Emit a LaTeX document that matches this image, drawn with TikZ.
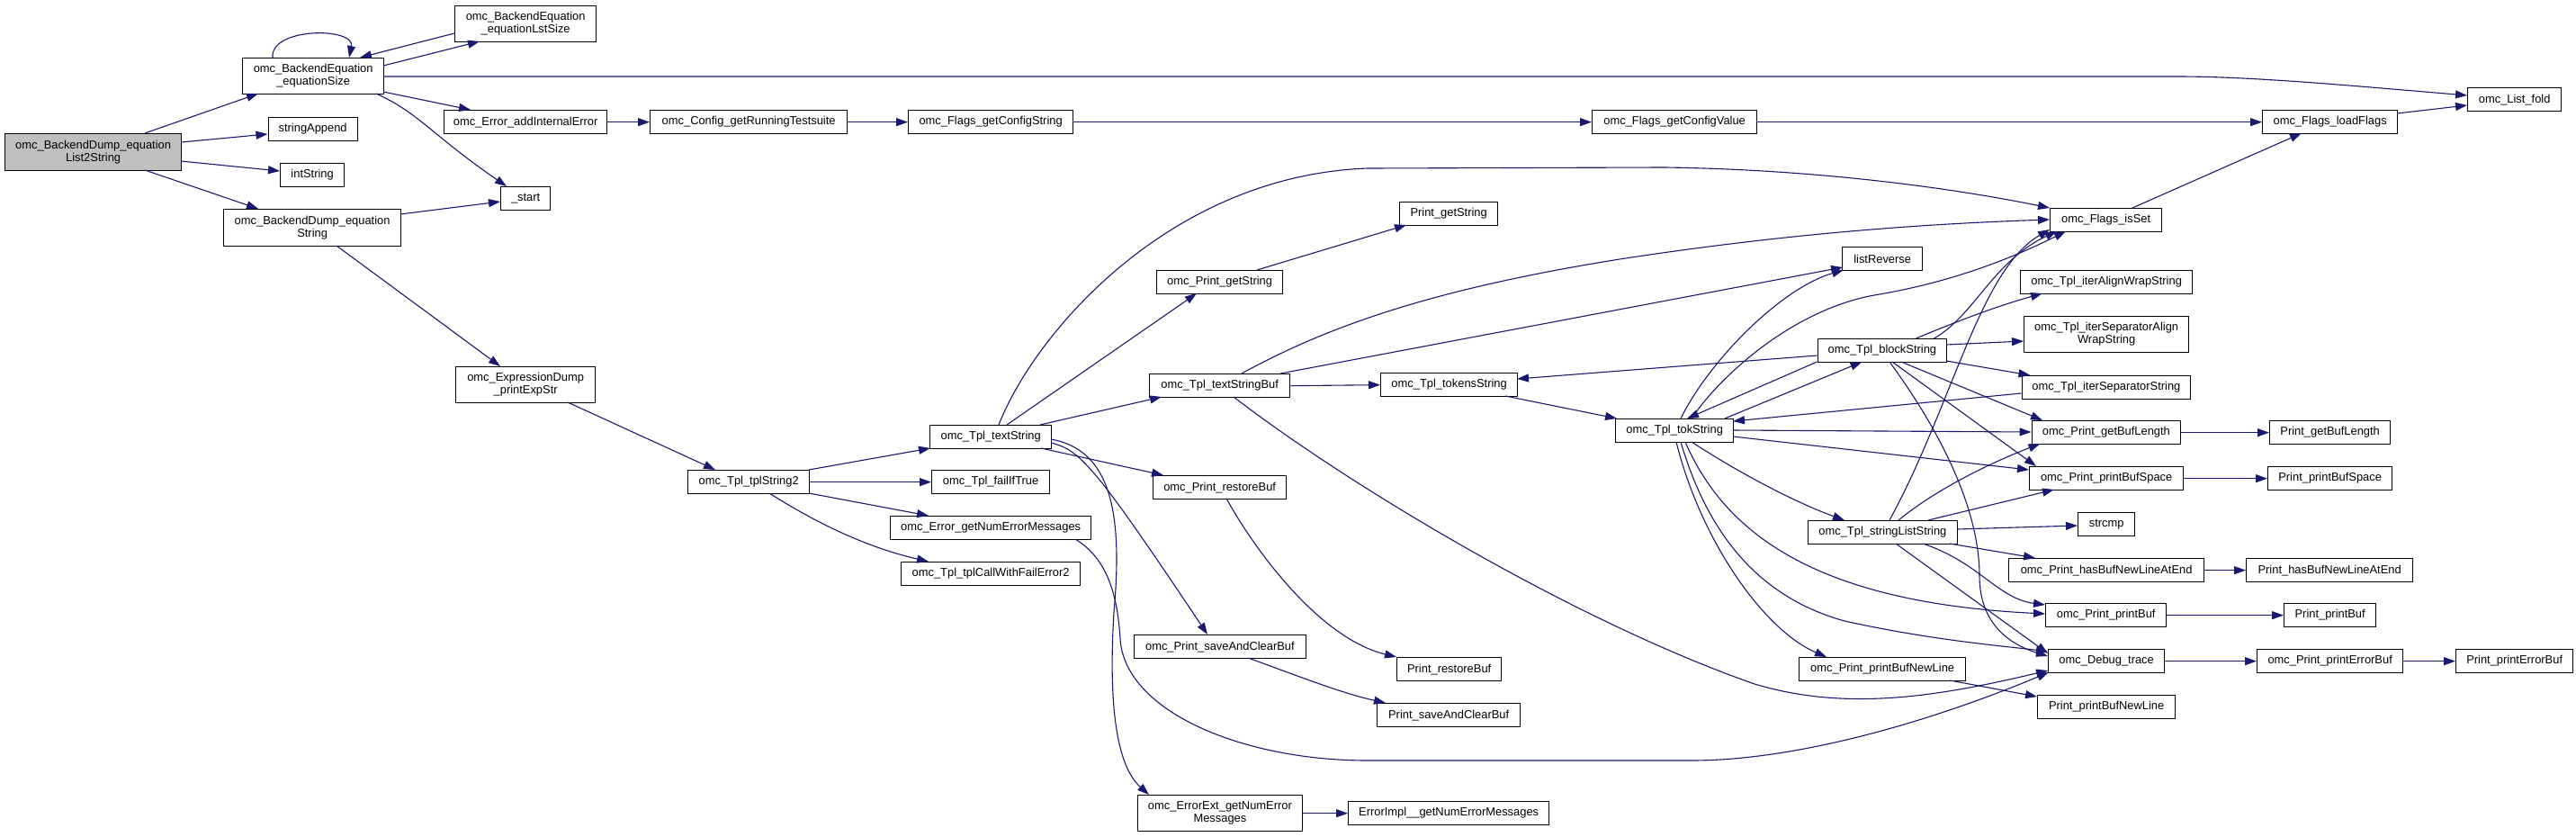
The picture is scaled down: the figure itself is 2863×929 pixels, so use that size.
\documentclass[tikz,border=0pt]{standalone}
\usepackage{fontspec}
\setmainfont{Liberation Sans}
\usetikzlibrary{arrows.meta,calc}
\definecolor{edgeblue}{HTML}{191970}
\definecolor{rootgray}{HTML}{BFBFBF}
\begin{document}
\begin{tikzpicture}[x=1pt,y=-1pt,
  box/.style={draw=black,line width=1.3pt,fill=white,inner sep=0pt,align=center,anchor=north west,minimum height=26pt,font=\fontsize{12.9}{14}\selectfont},
  dbl/.style={minimum height=40pt},
  call/.style={draw=edgeblue,line width=1.1pt,-{Triangle[length=13pt,width=9pt]}}]
\useasboundingbox[fill=white] (0,0) rectangle (2863,929);

% ---------- nodes ----------
\node[box,fill=rootgray,minimum width=196pt,minimum height=41pt] (L2S) at (5,148) {omc\_BackendDump\_equation\\List2String};
\node[box,dbl,minimum width=157pt] (eqSize) at (269,64) {omc\_BackendEquation\\\_equationSize};
\node[box,dbl,minimum width=157pt] (eqLst) at (505,6) {omc\_BackendEquation\\\_equationLstSize};
\node[box,minimum width=99pt] (strApp) at (297.5,130) {stringAppend};
\node[box,minimum width=71pt] (intStr) at (311,181) {intString};
\node[box,minimum width=197pt,minimum height=41pt] (eqStr) at (248,232) {omc\_BackendDump\_equation\\String};
\node[box,minimum width=181pt] (addErr) at (493,122) {omc\_Error\_addInternalError};
\node[box,minimum width=55pt] (start) at (556,207) {\_start};
\node[box,dbl,minimum width=155pt] (expStr) at (506,407) {omc\_ExpressionDump\\\_printExpStr};
\node[box,minimum width=219pt] (cfgTest) at (722,122) {omc\_Config\_getRunningTestsuite};
\node[box,minimum width=183pt] (cfgStr) at (1009,122) {omc\_Flags\_getConfigString};
\node[box,minimum width=183pt] (cfgVal) at (1769,122) {omc\_Flags\_getConfigValue};
\node[box,minimum width=150pt] (loadFl) at (2514,122) {omc\_Flags\_loadFlags};
\node[box,minimum width=104pt] (fold) at (2742,97) {omc\_List\_fold};
\node[box,minimum width=124pt] (isSet) at (2278,231) {omc\_Flags\_isSet};
\node[box,minimum width=140pt] (oPgetStr) at (1285,300) {omc\_Print\_getString};
\node[box,minimum width=109pt] (PgetStr) at (1555,224) {Print\_getString};
\node[box,minimum width=156pt] (tsBuf) at (1277,415) {omc\_Tpl\_textStringBuf};
\node[box,minimum width=89pt] (listRev) at (2047,274) {listReverse};
\node[box,minimum width=143.5pt] (block) at (2019.5,376) {omc\_Tpl\_blockString};
\node[box,minimum width=152pt] (tokens) at (1534,414) {omc\_Tpl\_tokensString};
\node[box,minimum width=131pt] (tok) at (1795,465) {omc\_Tpl\_tokString};
\node[box,minimum width=191pt] (iterAW) at (2245,300) {omc\_Tpl\_iterAlignWrapString};
\node[box,dbl,minimum width=183pt] (iterSAW) at (2249,351) {omc\_Tpl\_iterSeparatorAlign\\WrapString};
\node[box,minimum width=187.5pt] (iterS) at (2246.5,417) {omc\_Tpl\_iterSeparatorString};
\node[box,minimum width=165.5pt] (getBL) at (2257.5,467) {omc\_Print\_getBufLength};
\node[box,minimum width=134pt] (PgetBL) at (2522,467) {Print\_getBufLength};
\node[box,minimum width=171pt] (pBS) at (2255,518) {omc\_Print\_printBufSpace};
\node[box,minimum width=138pt] (PpBS) at (2520,518) {Print\_printBufSpace};
\node[box,minimum width=63pt] (strcmp) at (2309,569) {strcmp};
\node[box,minimum width=217pt] (hasNL) at (2232,620) {omc\_Print\_hasBufNewLineAtEnd};
\node[box,minimum width=185pt] (PhasNL) at (2496,620) {Print\_hasBufNewLineAtEnd};
\node[box,minimum width=134pt] (pBuf) at (2273,670) {omc\_Print\_printBuf};
\node[box,minimum width=102pt] (PpBuf) at (2538,670) {Print\_printBuf};
\node[box,minimum width=129pt] (dbg) at (2276,721) {omc\_Debug\_trace};
\node[box,minimum width=162pt] (pErr) at (2508,721) {omc\_Print\_printErrorBuf};
\node[box,minimum width=130pt] (PpErr) at (2729,721) {Print\_printErrorBuf};
\node[box,minimum width=153pt] (PpBNL) at (2264,772) {Print\_printBufNewLine};
\node[box,minimum width=166.5pt] (sLS) at (2008.5,578) {omc\_Tpl\_stringListString};
\node[box,minimum width=185pt] (pBNL) at (1999,730) {omc\_Print\_printBufNewLine};
\node[box,minimum width=116pt] (PrestBuf) at (1552,730) {Print\_restoreBuf};
\node[box,minimum width=159pt] (PsaveBuf) at (1530,781) {Print\_saveAndClearBuf};
\node[box,minimum width=223pt] (ErrImpl) at (1498,890) {ErrorImpl\_\_getNumErrorMessages};
\node[box,minimum width=135pt] (textStr) at (1033,472) {omc\_Tpl\_textString};
\node[box,minimum width=135pt] (tpl2) at (764,522) {omc\_Tpl\_tplString2};
\node[box,minimum width=131pt] (failT) at (1035,522) {omc\_Tpl\_failIfTrue};
\node[box,minimum width=223pt] (errNum) at (989,573) {omc\_Error\_getNumErrorMessages};
\node[box,minimum width=199pt] (callFail) at (1001,624) {omc\_Tpl\_tplCallWithFailError2};
\node[box,minimum width=148pt] (oPrest) at (1281,528) {omc\_Print\_restoreBuf};
\node[box,minimum width=191.5pt] (oPsave) at (1259.5,705) {omc\_Print\_saveAndClearBuf};
\node[box,dbl,minimum width=182.5pt] (errExt) at (1264,883) {omc\_ErrorExt\_getNumError\\Messages};

% ---------- edges ----------
\draw[call] ($(L2S.north west)+(156,0)$) -- ($(eqSize.north west)+(18,40)$);
\draw[call] ($(L2S.north west)+(196,10)$) -- ($(strApp.north west)+(0,19)$);
\draw[call] ($(L2S.north west)+(196,31)$) -- ($(intStr.north west)+(0,9)$);
\draw[call] ($(L2S.north west)+(156,41)$) -- ($(eqStr.north west)+(39,0)$);
\draw[call] ($(eqSize.north west)+(34,0)$) .. controls (300,30) and (395,30) .. ($(eqSize.north west)+(119,0)$);
\draw[call] ($(eqSize.north west)+(157,9)$) -- ($(eqLst.north west)+(28,40)$);
\draw[call] ($(eqLst.north west)+(0,31)$) -- ($(eqSize.north west)+(131,0)$);
\draw[call] ($(eqSize.north west)+(157,21)$) -- (2420,85) .. controls (2500,85) and (2600,94) .. ($(fold.north west)+(0,9)$);
\draw[call] ($(eqSize.north west)+(157,38)$) -- ($(addErr.north west)+(30,0)$);
\draw[call] ($(eqSize.north west)+(149,40)$) .. controls (465,125) and (480,150) .. ($(start.north west)+(7,0)$);
\draw[call] ($(eqStr.north west)+(197,6)$) -- ($(start.north west)+(0,17)$);
\draw[call] ($(eqStr.north west)+(126,41)$) -- ($(expStr.north west)+(50,0)$);
\draw[call] (addErr.east) -- (cfgTest.west);
\draw[call] (cfgTest.east) -- (cfgStr.west);
\draw[call] (cfgStr.east) -- (cfgVal.west);
\draw[call] (cfgVal.east) -- (loadFl.west);
\draw[call] ($(loadFl.north west)+(150,4)$) -- ($(fold.north west)+(0,20)$);
\draw[call] ($(isSet.north west)+(92,0)$) -- ($(loadFl.north west)+(44,26)$);
\draw[call] ($(expStr.north west)+(125,40)$) -- ($(tpl2.north west)+(31,0)$);
\draw[call] ($(tpl2.north west)+(135,0)$) -- ($(textStr.north west)+(1,26)$);
\draw[call] (tpl2.east) -- (failT.west);
\draw[call] ($(tpl2.north west)+(135,26)$) -- ($(errNum.north west)+(43,0)$);
\draw[call] ($(tpl2.north west)+(91,26)$) .. controls (890,570) and (950,605) .. ($(callFail.north west)+(31,0)$);
\draw[call] ($(textStr.north west)+(135,16)$) .. controls (1235,500) and (1248,570) .. (1238,680) .. controls (1232,780) and (1240,850) .. ($(errExt.north west)+(13,0)$);
\draw[call] ($(errNum.north west)+(206,26)$) .. controls (1230,620) and (1242,660) .. (1245,710) .. controls (1250,790) and (1380,845) .. (1520,845) -- (1880,845) .. controls (2000,845) and (2150,800) .. ($(dbg.north west)+(1,26)$);
\draw[call] (errExt.east) -- (ErrImpl.west);
\draw[call] ($(textStr.north west)+(77,0)$) .. controls (1150,370) and (1300,195) .. (1520,187) -- (1850,186) .. controls (2000,188) and (2150,205) .. (isSet.north west);
\draw[call] ($(textStr.north west)+(86,0)$) -- ($(oPgetStr.north west)+(45,26)$);
\draw[call] ($(oPgetStr.north west)+(112,0)$) -- ($(PgetStr.north west)+(8,26)$);
\draw[call] ($(textStr.north west)+(123,0)$) -- ($(tsBuf.north west)+(14,26)$);
\draw[call] ($(textStr.north west)+(124,26)$) -- ($(oPrest.north west)+(12,0)$);
\draw[call] ($(textStr.north west)+(135,20)$) .. controls (1200,500) and (1215,515) .. ($(oPsave.north west)+(82.5,0)$);
\draw[call] ($(oPrest.north west)+(82,26)$) .. controls (1400,620) and (1470,710) .. (PrestBuf.north west);
\draw[call] ($(oPsave.north west)+(127.5,26)$) .. controls (1440,750) and (1490,770) .. ($(PsaveBuf.north west)+(10,0)$);
\draw[call] ($(tsBuf.north west)+(103,0)$) .. controls (1480,360) and (1600,320) .. (1800,288) .. controls (1950,265) and (2100,250) .. ($(isSet.north west)+(0,13)$);
\draw[call] ($(tsBuf.north west)+(146,0)$) -- ($(listRev.north west)+(1,23)$);
\draw[call] (tsBuf.east) -- (tokens.west);
\draw[call] ($(tsBuf.north west)+(94,26)$) .. controls (1500,540) and (1750,690) .. (1950,760) .. controls (2050,790) and (2150,775) .. ($(dbg.north west)+(0,24)$);
\draw[call] ($(tokens.north west)+(139,26)$) -- ($(tok.north west)+(2,0)$);
\draw[call] ($(block.north west)+(0,19)$) -- ($(tokens.north west)+(152,7)$);
\draw[call] ($(tok.north west)+(122,0)$) -- ($(block.north west)+(50,26)$);
\draw[call] ($(block.north west)+(0,26)$) -- ($(tok.north west)+(80,0)$);
\draw[call] ($(tok.north west)+(73,0)$) .. controls (1900,400) and (1980,320) .. ($(listRev.north west)+(2,26)$);
\draw[call] ($(tok.north west)+(85,0)$) .. controls (1910,420) and (1990,345) .. (2083,328) .. controls (2180,312) and (2250,280) .. ($(isSet.north west)+(18,26)$);
\draw[call] ($(block.north west)+(130,0)$) .. controls (2195,350) and (2215,290) .. ($(isSet.north west)+(8,26)$);
\draw[call] ($(block.north west)+(110,0)$) .. controls (2180,355) and (2220,340) .. ($(iterAW.north west)+(25,26)$);
\draw[call] ($(block.north west)+(143.5,7)$) -- ($(iterSAW.north west)+(0,28)$);
\draw[call] ($(block.north west)+(143.5,25)$) -- ($(iterS.north west)+(10,0)$);
\draw[call] ($(block.north west)+(80.5,26)$) .. controls (2150,470) and (2200,560) .. (2200,640) .. controls (2200,690) and (2230,715) .. ($(dbg.north west)+(0,8)$);
\draw[call] ($(block.north west)+(83.5,26)$) -- ($(pBS.north west)+(8,0)$);
\draw[call] ($(block.north west)+(93.5,26)$) -- ($(getBL.north west)+(12.5,0)$);
\draw[call] ($(iterS.north west)+(0,20)$) -- ($(tok.north west)+(131,3)$);
\draw[call] ($(tok.north west)+(131,13)$) -- ($(getBL.north west)+(0,13)$);
\draw[call] ($(tok.north west)+(131,20)$) -- ($(pBS.north west)+(0,4)$);
\draw[call] ($(tok.north west)+(85,26)$) .. controls (1940,530) and (2000,560) .. ($(sLS.north west)+(41.5,0)$);
\draw[call] ($(tok.north west)+(78,26)$) .. controls (1920,600) and (2030,670) .. ($(pBuf.north west)+(0,12)$);
\draw[call] ($(tok.north west)+(73,26)$) .. controls (1900,600) and (1960,665) .. (2050,690) .. controls (2150,712) and (2230,718) .. ($(dbg.north west)+(0,3)$);
\draw[call] ($(tok.north west)+(68,26)$) .. controls (1890,600) and (1960,700) .. ($(pBNL.north west)+(31,0)$);
\draw[call] ($(sLS.north west)+(91.5,0)$) .. controls (2170,450) and (2200,300) .. ($(isSet.north west)+(0,24)$);
\draw[call] ($(sLS.north west)+(101.5,0)$) .. controls (2150,545) and (2210,515) .. ($(getBL.north west)+(10,26)$);
\draw[call] ($(sLS.north west)+(134.5,0)$) -- ($(pBS.north west)+(28,26)$);
\draw[call] ($(sLS.north west)+(166.5,10)$) -- ($(strcmp.north west)+(0,15)$);
\draw[call] ($(sLS.north west)+(158.5,26)$) -- ($(hasNL.north west)+(30,0)$);
\draw[call] ($(sLS.north west)+(128.5,26)$) .. controls (2200,625) and (2220,665) .. ($(pBuf.north west)+(0,2)$);
\draw[call] ($(sLS.north west)+(98.5,26)$) -- ($(dbg.north west)+(0,5)$);
\draw[call] ($(pBNL.north west)+(168,26)$) -- ($(PpBNL.north west)+(0,2)$);
\draw[call] (getBL.east) -- (PgetBL.west);
\draw[call] (pBS.east) -- (PpBS.west);
\draw[call] (hasNL.east) -- (PhasNL.west);
\draw[call] (pBuf.east) -- (PpBuf.west);
\draw[call] (dbg.east) -- (pErr.west);
\draw[call] (pErr.east) -- (PpErr.west);
\end{tikzpicture}
\end{document}
